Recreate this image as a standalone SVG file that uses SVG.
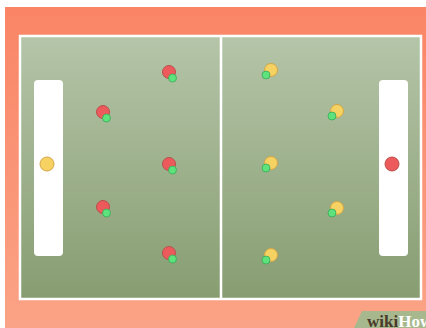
<svg xmlns="http://www.w3.org/2000/svg" width="426" height="328" viewBox="0 0 426 328">
<defs>
<linearGradient id="bg" x1="0" y1="0" x2="0" y2="1">
<stop offset="0" stop-color="#F98566"/>
<stop offset="1" stop-color="#FBA386"/>
</linearGradient>
<linearGradient id="field" x1="0" y1="0" x2="0" y2="1">
<stop offset="0" stop-color="#B5C5A9"/>
<stop offset="1" stop-color="#879D71"/>
</linearGradient>
<g id="redP"><circle cx="0" cy="0" r="6.5" class="red"/><circle cx="3.5" cy="6" r="4" class="grn"/></g>
<g id="yelP"><circle cx="0" cy="0" r="6.5" class="yel"/><circle cx="-5" cy="5" r="4" class="grn"/></g>
</defs>
<style>
.red{fill:#EC5A5C;stroke:#B9504C;stroke-width:1}
.yel{fill:#F6D262;stroke:#D4A647;stroke-width:1}
.grn{fill:#5DE27C;stroke:#3BA858;stroke-width:0.8}
.goal{fill:#FFFFFF}
.line{stroke:#FFFFFF;stroke-width:2.5;fill:none}
</style>
<rect x="0" y="0" width="426" height="328" fill="#FFFFFF"/>
<rect x="5" y="7" width="421" height="321" fill="url(#bg)"/>
<g id="field-area">
<rect x="20" y="36" width="401" height="263" fill="url(#field)"/>
<rect x="20" y="36" width="401" height="263" class="line"/>
<line x1="221" y1="36" x2="221" y2="299" class="line"/>
</g>
<g id="goal-left"><rect x="34" y="80" width="29" height="176" rx="4" class="goal"/></g>
<g id="goal-right"><rect x="379" y="80" width="29" height="176" rx="4" class="goal"/></g>
<g id="goalie-left"><circle cx="47" cy="164" r="7" class="yel"/></g>
<g id="goalie-right"><circle cx="392" cy="164" r="7" class="red"/></g>
<g id="red1"><use href="#redP" x="169" y="72"/></g>
<g id="red2"><use href="#redP" x="103" y="112"/></g>
<g id="red3"><use href="#redP" x="169" y="164"/></g>
<g id="red4"><use href="#redP" x="103" y="207"/></g>
<g id="red5"><use href="#redP" x="169" y="253"/></g>
<g id="yel1"><use href="#yelP" x="271" y="70"/></g>
<g id="yel2"><use href="#yelP" x="337" y="111"/></g>
<g id="yel3"><use href="#yelP" x="271" y="163"/></g>
<g id="yel4"><use href="#yelP" x="337" y="208"/></g>
<g id="yel5"><use href="#yelP" x="271" y="255"/></g>
<g id="connectors"></g>
<g id="logo">
<path d="M362 311 L426 311 L426 328 L354 328 Z" fill="#A7B88F"/>
<text x="367" y="327" font-family="Liberation Serif, serif" font-weight="bold" font-size="17"><tspan fill="#4A3A2A">wiki</tspan><tspan fill="#FFFFFF">How</tspan></text>
</g>
</svg>
